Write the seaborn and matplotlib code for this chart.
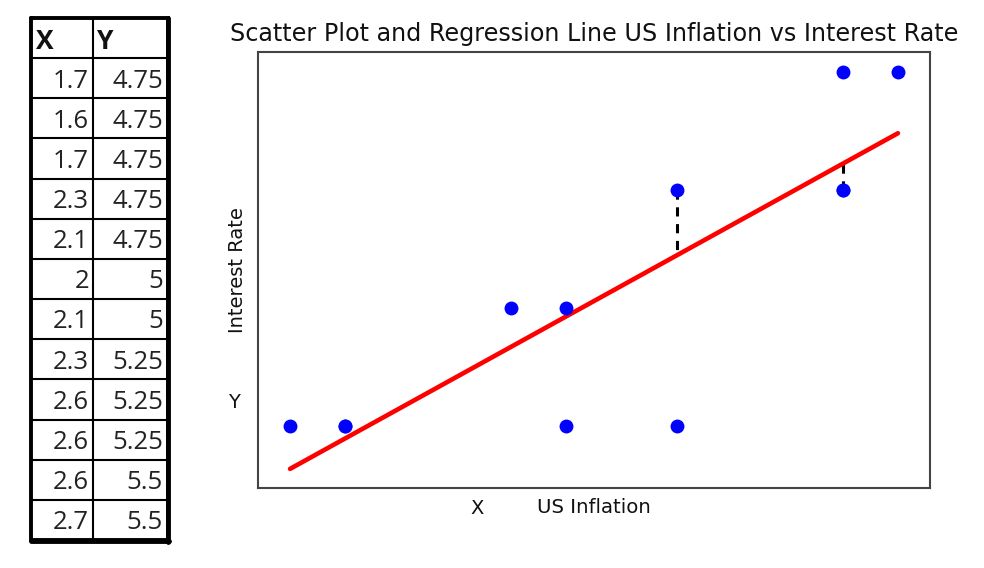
import numpy as np
import pandas as pd
import matplotlib
matplotlib.use("Agg")
from matplotlib import pyplot as plt
import seaborn as sns

inflation = [1.7, 1.6, 1.7, 2.3, 2.1, 2.0, 2.1, 2.3, 2.6, 2.6, 2.6, 2.7]
interest = [4.75, 4.75, 4.75, 4.75, 4.75, 5.0, 5.0, 5.25, 5.25, 5.25, 5.5, 5.5]
table_x = ["1.7", "1.6", "1.7", "2.3", "2.1", "2", "2.1", "2.3", "2.6", "2.6", "2.6", "2.7"]
table_y = ["4.75", "4.75", "4.75", "4.75", "4.75", "5", "5", "5.25", "5.25", "5.25", "5.5", "5.5"]
# points whose residuals are drawn as dashed lines
resid_x = [2.3, 2.6]
resid_y = [5.25, 5.25]

df = pd.DataFrame({"US Inflation": inflation, "Interest Rate": interest})

sns.set_style("white")
plt.rcParams["text.color"] = "#111111"
plt.rcParams["axes.labelcolor"] = "#111111"
fig = plt.figure(figsize=(9.84, 5.68), dpi=100)
W, H = 984, 568

# ---- scatter + regression ----
ax = fig.add_axes([258 / W, 1 - 488 / H, 672 / W, 436 / H])
sns.regplot(data=df, x="US Inflation", y="Interest Rate", ci=None, ax=ax,
            scatter_kws={"s": 100, "color": "blue", "alpha": 1, "linewidths": 0, "zorder": 3},
            line_kws={"color": "red", "lw": 3.3, "zorder": 2})
slope, icpt = np.polyfit(inflation, interest, 1)
for rx, ry in zip(resid_x, resid_y):
    ax.plot([rx, rx], [ry, slope * rx + icpt], color="black", ls=(0, (3, 2.5)), lw=2.2, zorder=1)
ax.set_xlim(1.542, 2.758)
ax.set_ylim(4.6186, 5.5424)
ax.set_xticks([])
ax.set_yticks([])
for s in ax.spines.values():
    s.set_color("#444444")
    s.set_linewidth(1.5)
ax.set_title("Scatter Plot and Regression Line US Inflation vs Interest Rate", fontsize=17.2, pad=8)
ax.set_xlabel("US Inflation", fontsize=14.2, labelpad=7.5)
ax.set_ylabel("Interest Rate", fontsize=14, labelpad=8)
fig.text(477 / W, 1 - 509 / H, "X", fontsize=14, ha="center", va="center")
fig.text(234 / W, 1 - 402 / H, "Y", fontsize=14, ha="center", va="center")

# ---- data table ----
tax = fig.add_axes([31 / W, 1 - 540 / H, 137 / W, 522 / H])
tax.set_xlim(0, 137)
tax.set_ylim(len(table_x) + 1, 0)
tax.axis("off")
for i in range(1, len(table_x) + 1):
    tax.axhline(i, color="black", lw=1.5)
tax.axvline(62, color="black", lw=1.5)
tax.plot([0, 137, 137, 0, 0], [0, 0, len(table_x) + 1, len(table_x) + 1, 0],
         color="black", lw=2.8, clip_on=False, solid_joinstyle="miter")
tax.plot([137.5, 137.5], [0, len(table_x) + 1.05], color="black", lw=3.5, clip_on=False)
tax.plot([0, 138], [len(table_x) + 1.03, len(table_x) + 1.03], color="black", lw=3.5, clip_on=False)
tfont = ["Open Sans", "DejaVu Sans"]
tax.text(5, 0.58, "X", fontsize=19, fontweight="bold", va="center", ha="left", family=tfont)
tax.text(66, 0.58, "Y", fontsize=19, fontweight="bold", va="center", ha="left", family=tfont)
for i, (a, b) in enumerate(zip(table_x, table_y)):
    tax.text(58, i + 1.57, a, fontsize=18.5, va="center", ha="right", family=tfont, color="#222222")
    tax.text(132, i + 1.57, b, fontsize=18.5, va="center", ha="right", family=tfont, color="#222222")

fig.savefig("out.png", dpi=100)
